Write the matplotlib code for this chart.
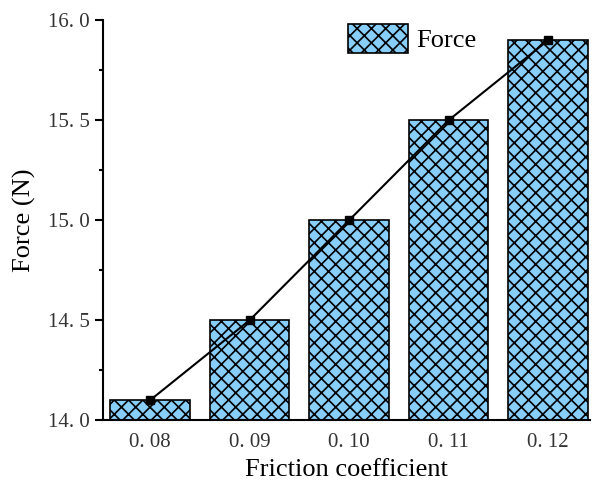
import matplotlib
matplotlib.use('agg')
import matplotlib.pyplot as plt
from matplotlib.ticker import MultipleLocator
from matplotlib.backend_bases import GraphicsContextBase

# data
coefficients = ['0. 08', '0. 09', '0. 10', '0. 11', '0. 12']
force = [14.1, 14.5, 15.0, 15.5, 15.9]
y_ticks = [14.0, 14.5, 15.0, 15.5, 16.0]
y_labels = ['14. 0', '14. 5', '15. 0', '15. 5', '16. 0']

# slightly finer cross-hatch than the default density of 6
_get_hatch_path = GraphicsContextBase.get_hatch_path
GraphicsContextBase.get_hatch_path = \
    lambda self, density=7.5: _get_hatch_path(self, density)

plt.rcParams['hatch.linewidth'] = 1.2
plt.rcParams['hatch.color'] = 'black'

fig, ax = plt.subplots(figsize=(5.94, 4.83), dpi=100)
fig.subplots_adjust(left=0.174, right=0.993, top=0.958, bottom=0.13)

x = list(range(len(coefficients)))
ax.bar(x, [f - 14.0 for f in force], bottom=14.0, width=0.8,
       color='#87cefa', edgecolor='black', linewidth=1.2, hatch='xx',
       label='Force', zorder=2)
ax.plot(x, force, color='black', linewidth=1.5, marker='s', markersize=6,
        zorder=3)

ax.set_xlim(-0.47, 4.42)
ax.set_ylim(14.0, 16.0)
ax.yaxis.set_minor_locator(MultipleLocator(0.25))
ax.set_xticks(x)
ax.set_xticklabels(coefficients)
ax.set_yticks(y_ticks)
ax.set_yticklabels(y_labels)

for side in ('top', 'right'):
    ax.spines[side].set_visible(False)
for side in ('left', 'bottom'):
    ax.spines[side].set_linewidth(1.5)

ax.tick_params(axis='x', length=0, pad=9, labelsize=15,
               labelcolor='#333333')
ax.tick_params(axis='y', which='major', length=6, width=1.5, pad=4,
               labelsize=15, labelcolor='#333333')
ax.tick_params(axis='y', which='minor', length=3, width=1.5)
for lab in ax.get_xticklabels() + ax.get_yticklabels():
    lab.set_family('Liberation Serif')

ax.set_xlabel('Friction coefficient', family='Liberation Serif',
              fontsize=19, labelpad=5)
ax.set_ylabel('Force (N)', family='Liberation Serif', fontsize=19,
              labelpad=8)

ax.legend(loc='upper left', bbox_to_anchor=(0.455, 1.05), frameon=False,
          prop={'family': 'Liberation Serif', 'size': 19},
          handlelength=2.25, handleheight=1.3, handletextpad=0.3)

plt.savefig('out.png', dpi=100)
plt.close()
